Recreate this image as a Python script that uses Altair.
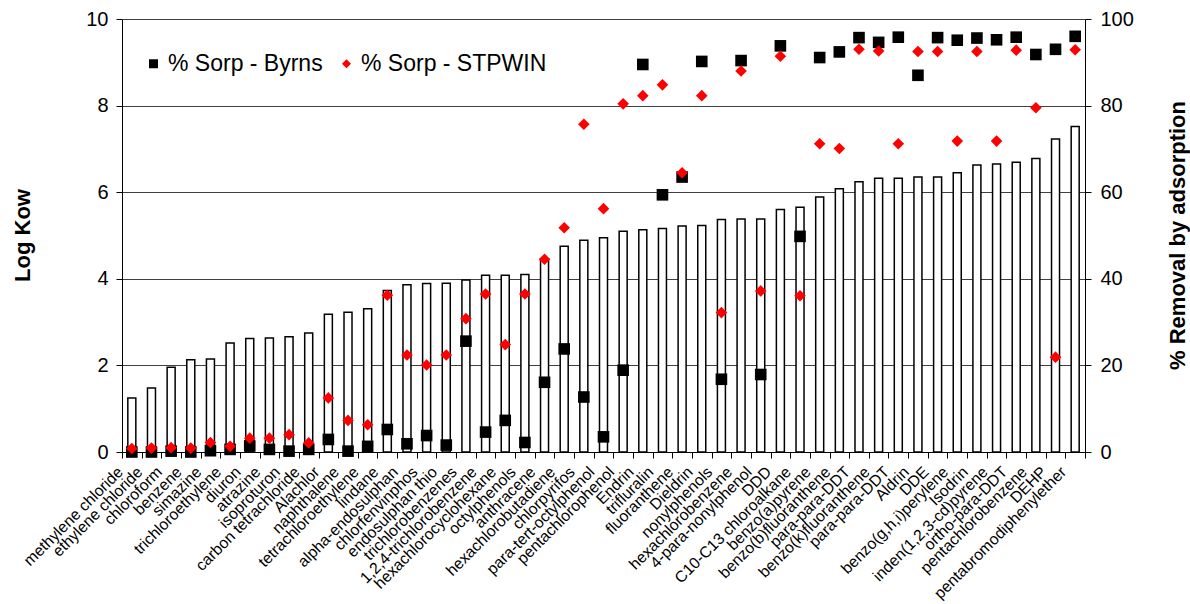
import altair as alt
import pandas as pd

compounds = [
    "methylene chloride", "ethylene chloride", "chloroform", "benzene", "simazine",
    "trichloroethylene", "diuron", "atrazine", "isoproturon", "carbon tetrachloride",
    "Alachlor", "naphthalene", "tetrachloroethylene", "lindane", "alpha-endosulphan",
    "chlorfenvinphos", "endosulphan thio", "trichlorobenzenes", "1,2,4-trichlorobenzene",
    "hexachlorocyclohexane", "octylphenols", "anthracene", "hexachlorobutadiene",
    "chlorpyrifos", "para-tert-octylphenol", "pentachlorophenol", "Endrin", "trifluralin",
    "fluoranthene", "Dieldrin", "nonylphenols", "hexachlorobenzene", "4-para-nonylphenol",
    "DDD", "C10-C13 chloroalkane", "benzo(a)pyrene", "benzo(b)fluoranthene", "para-para-DDT",
    "benzo(k)fluoranthene", "para-para-DDT ", "Aldrin", "DDE", "benzo(g,h,i)perylene",
    "Isodrin", "inden(1,2,3-cd)pyrene", "ortho-para-DDT", "pentachlorobenzene", "DEHP",
    "pentabromodiphenylether",
]
log_kow = [
    1.25, 1.48, 1.96, 2.13, 2.15, 2.52, 2.62, 2.63, 2.66, 2.75,
    3.18, 3.23, 3.31, 3.73, 3.86, 3.89, 3.90, 3.97, 4.08, 4.08,
    4.10, 4.45, 4.75, 4.89, 4.95, 5.10, 5.13, 5.16, 5.22, 5.23,
    5.37, 5.38, 5.38, 5.60, 5.65, 5.89, 6.08, 6.24, 6.32, 6.32,
    6.35, 6.35, 6.45, 6.63, 6.65, 6.69, 6.78, 7.23, 7.52,
]
sorp_byrns = [
    0.0, 0.0, 0.2, 0.0, 0.3, 0.6, 1.4, 0.6, 0.2, 0.6,
    2.9, 0.2, 1.3, 5.2, 1.9, 3.8, 1.6, 25.6, 4.6, 7.3,
    2.2, 16.1, 23.8, 12.7, 3.5, 18.9, 89.5, 59.4, 63.5, 90.2,
    16.8, 90.4, 17.9, 93.8, 49.8, 91.1, 92.4, 95.7, 94.6, 95.8,
    87.0, 95.7, 95.1, 95.6, 95.2, 95.8, 91.8, 93.0, 96.0,
]
sorp_stpwin = [
    0.8, 0.9, 1.0, 0.9, 2.2, 1.3, 3.2, 3.2, 4.0, 2.1,
    12.5, 7.3, 6.3, 36.2, 22.4, 20.1, 22.4, 30.8, 36.5, 24.8,
    36.5, 44.5, 51.8, 75.7, 56.2, 80.4, 82.3, 84.8, 64.5, 82.3,
    32.2, 88.0, 37.2, 91.4, 36.1, 71.2, 70.1, 93.0, 92.6, 71.2,
    92.5, 92.5, 71.8, 92.5, 71.8, 92.8, 79.5, 21.9, 92.9,
]
series_names = ["% Sorp - Byrns", "% Sorp - STPWIN"]

df = pd.DataFrame({
    "compound": compounds,
    "kow": log_kow,
    series_names[0]: sorp_byrns,
    series_names[1]: sorp_stpwin,
})

FONT = "Liberation Sans"

x_enc = alt.X(
    "compound:N",
    sort=compounds,
    scale=alt.Scale(paddingInner=0, paddingOuter=0),
    axis=alt.Axis(
        title=None, labelAngle=-45, labelAlign="right", labelBaseline="middle",
        labelFontSize=15.8, labelOverlap=False, labelOffset=-12, labelPadding=11,
        labelLimit=0, tickBand="extent", tickSize=6, grid=False,
        domainColor="black", tickColor="black", labelColor="black",
        labelFont=FONT,
    ),
)

bars = alt.Chart(df).mark_bar(size=8, fill="white", stroke="black", strokeWidth=1.5).encode(
    x=x_enc,
    y=alt.Y(
        "kow:Q",
        scale=alt.Scale(domain=[0, 10], nice=False),
        axis=alt.Axis(
            title="Log Kow", values=[0, 2, 4, 6, 8, 10], grid=True,
            gridColor="#404040", gridWidth=1, tickSize=6, tickColor="black",
            domainColor="black", labelFontSize=20, labelColor="black",
            labelPadding=8, titleFontSize=22, titleFontWeight="bold",
            titleColor="black", titleAngle=-90, titleX=-100, titleY=216,
            titleAlign="center", titleBaseline="middle",
        ),
    ),
)

legend_def = dict(
    title=None, orient="none", direction="horizontal", legendX=20,
    legendY=33, labelFontSize=23, labelColor="black", symbolSize=81,
    labelOffset=3, columnPadding=12, padding=0, labelLimit=0,
)

points = alt.Chart(df).transform_fold(
    series_names, as_=["series", "value"]
).mark_point(filled=True, size=135, opacity=1).encode(
    x=x_enc,
    y=alt.Y(
        "value:Q",
        scale=alt.Scale(domain=[0, 100], nice=False),
        axis=alt.Axis(
            orient="right", title="% Removal by adsorption",
            values=[0, 20, 40, 60, 80, 100], grid=False, tickSize=6,
            tickColor="black", domainColor="black", labelFontSize=20,
            labelColor="black", labelPadding=9, titleFontSize=22,
            titleFontWeight="bold", titleColor="black", titleAngle=-90,
            titleX=92, titleY=216, titleAlign="center", titleBaseline="middle",
        ),
    ),
    color=alt.Color(
        "series:N",
        scale=alt.Scale(domain=series_names, range=["black", "red"]),
        legend=alt.Legend(**legend_def),
    ),
    shape=alt.Shape(
        "series:N",
        scale=alt.Scale(domain=series_names, range=["square", "diamond"]),
        legend=alt.Legend(**legend_def),
    ),
)

chart = alt.layer(bars, points).resolve_scale(y="independent").properties(
    width=963,
    height=433,
    autosize=alt.AutoSizeParams(type="none"),
    padding={"left": 122, "top": 19, "right": 105, "bottom": 152},
    background="white",
).configure(font=FONT).configure_view(stroke=None).configure_legend(
    symbolStrokeWidth=0
)

chart.save("out.html", embed_options={"renderer": "svg", "actions": False})
